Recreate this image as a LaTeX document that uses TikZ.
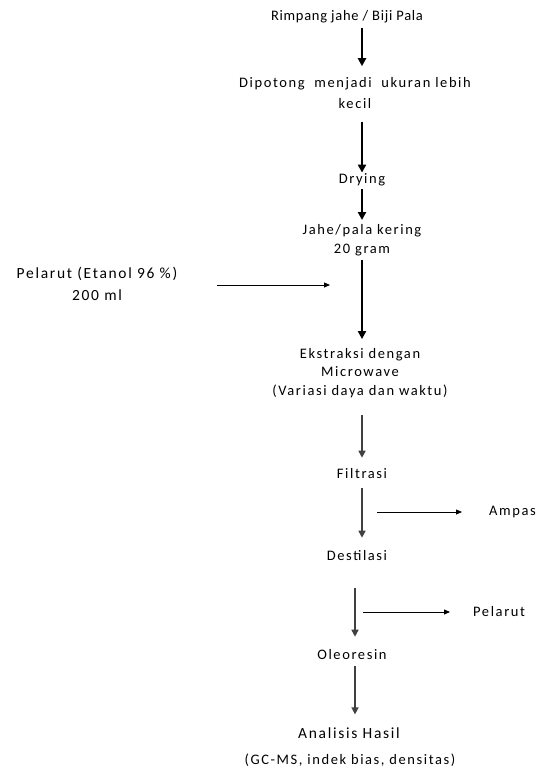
\documentclass[tikz,border=0pt]{standalone}
\usepackage{fontspec}
\setmainfont{Carlito}[LetterSpace=11]
\newfontfamily\rapat{Carlito}[LetterSpace=5]
\usetikzlibrary{arrows.meta}
\begin{document}
\begin{tikzpicture}[x=1pt,y=-1pt,
  lbl/.style={inner sep=1pt, align=center, font=\fontsize{14.5}{19}\selectfont},
  flow/.style={line width=2.2pt, -{Triangle[width=8pt,length=8pt]}},
  flowthin/.style={line width=1.5pt, black!75, -{Triangle[width=7pt,length=7pt]}},
  side/.style={line width=0.8pt, -{Triangle[width=5pt,length=6pt]}}]
\useasboundingbox (0,0) rectangle (542,769);

% main line
\node[lbl, font=\fontsize{14.5}{19}\rapat] (rimpang) at (347,17) {Rimpang jahe / Biji Pala};
\node[lbl, font=\fontsize{14.5}{21}\selectfont] (dipotong) at (355,93) {Dipotong\ \ menjadi\ \ ukuran lebih\\kecil};
\node[lbl] (drying) at (362,180) {Drying};
\node[lbl] (jahe) at (362,240) {Jahe/pala kering\\20 gram};
\node[lbl, font=\fontsize{14.5}{18.5}\selectfont] (ekstraksi) at (360,373) {Ekstraksi dengan\\Microwave\\(Variasi daya dan waktu)};
\node[lbl] (filtrasi) at (362,474) {Filtrasi};
\node[lbl] (destilasi) at (357,556) {Destilasi};
\node[lbl] (oleoresin) at (352,655) {Oleoresin};
\node[lbl, font=\fontsize{15.5}{19}\selectfont] (analisis) at (349,733) {Analisis Hasil};
\node[lbl] (uji) at (350,760) {(GC-MS, indek bias, densitas)};

% side nodes
\node[lbl, font=\fontsize{15.5}{22}\selectfont] (pelarut) at (97,284) {Pelarut (Etanol 96 \%)\\200 ml};
\node[lbl, anchor=west] (ampas) at (488,512) {Ampas};
\node[lbl, anchor=west] (sisa) at (472,612) {Pelarut};
\coordinate (masuk) at (330,285);

\draw[flow] (rimpang.south -| drying) ++(0,4) -- ([yshift=10pt]dipotong.north -| drying);
\draw[flow] (dipotong.south -| drying) ++(0,12) -- (drying.north);
\draw[flow] (drying.south) ++(0,2) -- ([yshift=3pt]jahe.north);
\draw[flow] (jahe.south) ++(0,3) -- ([yshift=8pt]ekstraksi.north -| jahe);
\draw[side] (217,285) -- (masuk);
\draw[flowthin] (ekstraksi.south -| filtrasi) ++(0,16) -- ([yshift=10pt]filtrasi.north);
\draw[flowthin] (filtrasi.south) ++(0,8) -- ([yshift=12pt]destilasi.north -| filtrasi);
\draw[side] (ampas.west -| filtrasi) ++(15,0) -- ([xshift=-26pt]ampas.west);
\draw[flowthin] (destilasi.south -| 355,0) ++(0,26) -- ([yshift=12pt]oleoresin.north -| 355,0);
\draw[side] (sisa.west -| 355,0) ++(8,0) -- ([xshift=-22pt]sisa.west);
\draw[flowthin] (oleoresin.south -| 355,0) ++(0,5) -- ([yshift=12pt]analisis.north -| 355,0);
\end{tikzpicture}
\end{document}
